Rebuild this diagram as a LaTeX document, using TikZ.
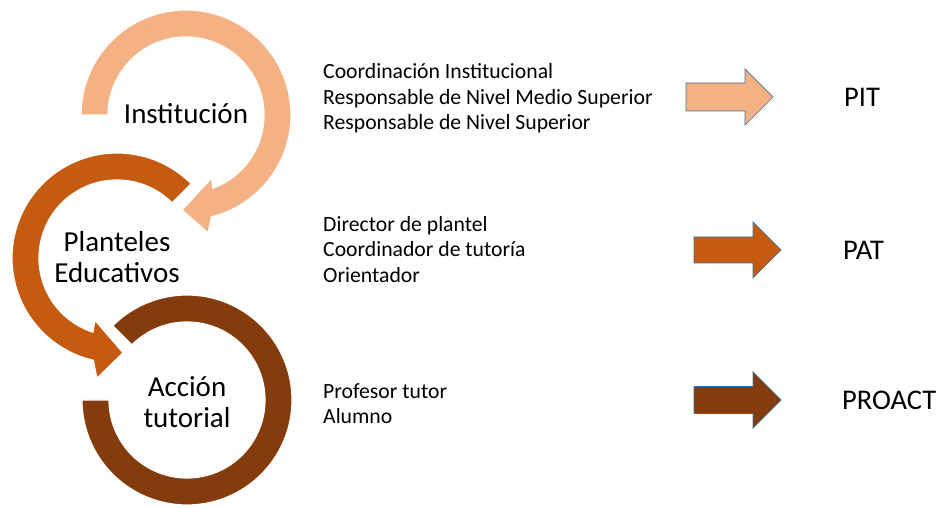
\documentclass[tikz,border=0pt]{standalone}
\usepackage{fontspec}
\setmainfont{Carlito}
\usetikzlibrary{positioning}
\definecolor{instcolor}{HTML}{F4B183}
\definecolor{plantcolor}{HTML}{C55A11}
\definecolor{acccolor}{HTML}{843C0C}
\definecolor{edgecolor}{HTML}{41719C}

\begin{document}
\begin{tikzpicture}[x=1pt,y=1pt,
  ring/.style={draw=white,line width=1.2pt},
  blockarr/.style={draw=edgecolor,line width=0.7pt},
  circlabel/.style={font=\fontsize{29}{30.5}\selectfont,align=center,inner sep=0pt},
  listlabel/.style={font=\fontsize{21.7}{25.5}\selectfont,align=left,anchor=west,inner sep=0pt},
  planlabel/.style={font=\fontsize{28.5}{30}\selectfont,inner sep=0pt}]
\useasboundingbox (0,0) rectangle (945,508);

% rings
\begin{scope}[shift={(187,108)}]
\draw[ring,fill=acccolor] (180:105) arc[start angle=180,end angle=495,radius=105] -- (135:78) arc[start angle=135,end angle=-180,radius=78] -- cycle;
\end{scope}
\begin{scope}[shift={(117,250)}]
\draw[ring,fill=plantcolor] (45:105) arc[start angle=45,end angle=257,radius=105] -- (260.5:122) -- (273.6:95) -- (250.5:66) -- (252:78) arc[start angle=252,end angle=45,radius=78] -- cycle;
\end{scope}
\begin{scope}[shift={(186,393)}]
\draw[ring,fill=instcolor] (180:105) arc[start angle=180,end angle=-76,radius=105] -- (-79.4:120) -- (-92.4:95) -- (-67.6:68) -- (-70:78) arc[start angle=-70,end angle=180,radius=78] -- cycle;
\end{scope}

\node[circlabel] (inst) at (186,394) {Institución};
\node[circlabel] (plant) at (117,251) {Planteles\\Educativos};
\node[circlabel] (acc) at (187,106) {Acción\\tutorial};

% lists
\node[listlabel] (list1) at (323,409.5) {Coordinación Institucional\\Responsable de Nivel Medio Superior\\Responsable de Nivel Superior};
\node[listlabel] (list2) at (323,258.5) {Director de plantel\\Coordinador de tutoría\\Orientador};
\node[listlabel] (list3) at (323,104.5) {Profesor tutor\\Alumno};

% block arrows
\draw[blockarr,fill=instcolor] (686,425) -- (745,425) -- (745,439) -- (773,411) -- (745,383) -- (745,397) -- (686,397) -- cycle;
\draw[blockarr,fill=plantcolor] (694,271) -- (753,271) -- (753,286) -- (781,258) -- (753,230) -- (753,245) -- (694,245) -- cycle;
\draw[blockarr,fill=acccolor] (694,121.5) -- (753,121.5) -- (753,136) -- (781,108) -- (753,80) -- (753,94.5) -- (694,94.5) -- cycle;
\coordinate (tip1) at (773,411);
\coordinate (tip2) at (781,258);
\coordinate (tip3) at (781,108);

\node[planlabel,right=71pt of tip1] (pit) {PIT};
\node[planlabel,right=62pt of tip2] (pat) {PAT};
\node[planlabel,right=61pt of tip3] (proact) {PROACT};

\end{tikzpicture}
\end{document}
